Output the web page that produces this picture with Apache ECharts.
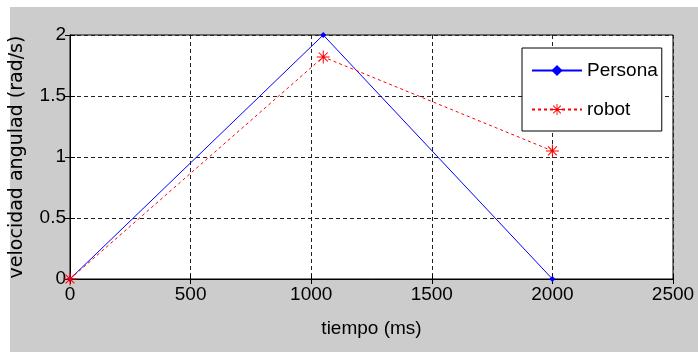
<!DOCTYPE html>
<html>
<head>
<meta charset="utf-8">
<script src="https://cdn.jsdelivr.net/npm/echarts@6/dist/echarts.min.js"></script>
<style>
  html, body { margin: 0; padding: 0; background: #fff; }
  #chart { width: 698px; height: 352px; }
</style>
</head>
<body>
<div id="chart"></div>
<script>
// values
const personaTime = [0, 1050, 2000];
const personaVel = [0, 2, 0];
const robotTime = [0, 1050, 2000];
const robotVel = [0, 1.82, 1.05];

const xTicks = [0, 500, 1000, 1500, 2000, 2500];
const yTicks = [0, 0.5, 1, 1.5, 2];

const narrow = '"Liberation Sans Narrow", "Arial Narrow", "Liberation Sans", Arial, sans-serif';
// asterisk marker like matlab's '*'
const star = 'path://M9.2,0h1.6v20h-1.6z M0,9.2h20v1.6h-20z M2.6,3.7L3.7,2.6L17.4,16.3L16.3,17.4z M16.3,2.6L17.4,3.7L3.7,17.4L2.6,16.3z';

const chart = echarts.init(document.getElementById('chart'));

const gridDash = { show: true, lineStyle: { color: '#222', type: [4, 3], width: 1 } };

const option = {
  animation: false,
  graphic: [
    { type: 'rect', left: 10, top: 7, z: -5, silent: true,
      shape: { width: 688, height: 345 }, style: { fill: '#cccccc' } }
  ],
  grid: { left: 70, right: 25, top: 35, bottom: 73, show: true,
    backgroundColor: '#fff', borderColor: '#000', borderWidth: 1 },
  legend: {
    orient: 'vertical', left: 522, top: 48,
    backgroundColor: '#fff', borderColor: '#000', borderWidth: 1,
    padding: [13, 4, 12, 9],
    itemWidth: 50, itemHeight: 14, itemGap: 20,
    textStyle: { fontFamily: narrow, fontSize: 19, color: '#000' },
    data: ['Persona', 'robot']
  },
  xAxis: [
    {
      type: 'value', min: 0, max: 2500, interval: 500,
      name: 'tiempo (ms)', nameLocation: 'middle', nameGap: 40,
      nameTextStyle: { fontFamily: narrow, fontSize: 19, color: '#000' },
      axisLine: { lineStyle: { color: '#000' } },
      axisTick: { inside: true, length: 5, lineStyle: { color: '#000' } },
      axisLabel: { fontFamily: narrow, fontSize: 19, color: '#000', margin: 6,
        customValues: xTicks, formatter: v => String(v) },
      splitLine: gridDash
    },
    {
      type: 'value', min: 0, max: 2500, interval: 500, position: 'top',
      axisLine: { lineStyle: { color: '#000' } },
      axisTick: { inside: true, length: 5, lineStyle: { color: '#000' } },
      axisLabel: { show: false }, splitLine: { show: false }
    }
  ],
  yAxis: [
    {
      type: 'value', min: 0, max: 2, interval: 0.5,
      name: 'velocidad angulad (rad/s)', nameLocation: 'middle', nameGap: 43,
      nameTextStyle: { fontFamily: '"DejaVu Sans", sans-serif', fontSize: 19, color: '#000' },
      axisLine: { lineStyle: { color: '#000' } },
      axisTick: { inside: true, length: 5, lineStyle: { color: '#000' } },
      axisLabel: { fontFamily: narrow, fontSize: 19, color: '#000', margin: 4,
        customValues: yTicks, formatter: v => String(v) },
      splitLine: gridDash
    },
    {
      type: 'value', min: 0, max: 2, interval: 0.5, position: 'right',
      axisLine: { lineStyle: { color: '#000' } },
      axisTick: { inside: true, length: 5, lineStyle: { color: '#000' } },
      axisLabel: { show: false }, splitLine: { show: false }
    }
  ],
  series: [
    {
      name: 'Persona', type: 'line',
      data: personaTime.map((t, i) => [t, personaVel[i]]),
      color: '#0000ff',
      lineStyle: { width: 1, color: '#0000ff' },
      symbol: 'diamond', symbolSize: 6,
      itemStyle: { color: '#0000ff' }
    },
    {
      name: 'robot', type: 'line',
      data: robotTime.map((t, i) => [t, robotVel[i]]),
      color: '#ff0000',
      lineStyle: { width: 1, color: '#ff0000', type: [3, 3] },
      symbol: star, symbolSize: 13,
      itemStyle: { color: '#ff0000' },
      z: 3
    }
  ]
};

chart.setOption(option);
</script>
</body>
</html>
